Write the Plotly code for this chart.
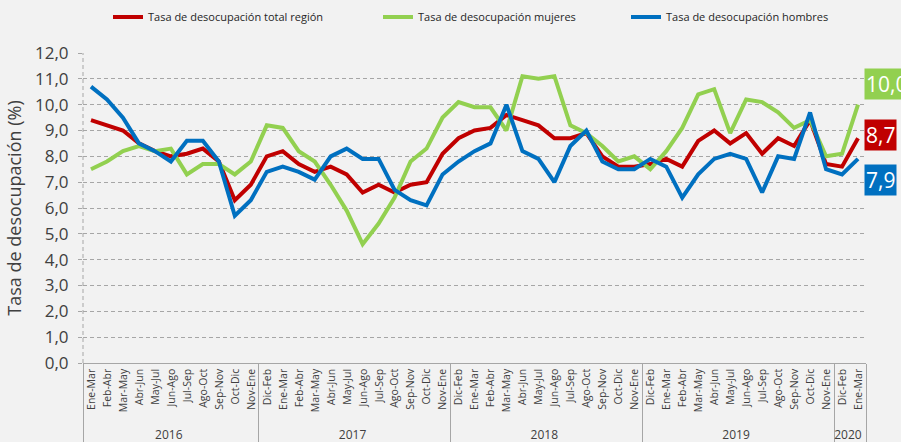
import plotly.graph_objects as go

years = ["2016"] * 11 + ["2017"] * 12 + ["2018"] * 12 + ["2019"] * 12 + ["2020"] * 2
periods = (
    ["Ene-Mar", "Feb-Abr", "Mar-May", "Abr-Jun", "May-Jul", "Jun-Ago", "Jul-Sep", "Ago-Oct", "Sep-Nov", "Oct-Dic", "Nov-Ene"]
    + ["Dic-Feb", "Ene-Mar", "Feb-Abr", "Mar-May", "Abr-Jun", "May-Jul", "Jun-Ago", "Jul-Sep", "Ago-Oct", "Sep-Nov", "Oct-Dic", "Nov-Ene"]
    + ["Dic-Feb", "Ene-Mar", "Feb-Abr", "Mar-May", "Abr-Jun", "May-Jul", "Jun-Ago", "Jul-Sep", "Ago-Oct", "Sep-Nov", "Oct-Dic", "Nov-Ene"]
    + ["Dic-Feb", "Ene-Mar", "Feb-Abr", "Mar-May", "Abr-Jun", "May-Jul", "Jun-Ago", "Jul-Sep", "Ago-Oct", "Sep-Nov", "Oct-Dic", "Nov-Ene"]
    + ["Dic-Feb", "Ene-Mar"]
)

total = [9.4, 9.2, 9.0, 8.5, 8.2, 8.0, 8.1, 8.3, 7.8, 6.3, 6.9,
         8.0, 8.2, 7.7, 7.4, 7.6, 7.3, 6.6, 6.9, 6.6, 6.9, 7.0, 8.1,
         8.7, 9.0, 9.1, 9.6, 9.4, 9.2, 8.7, 8.7, 8.9, 8.0, 7.6, 7.6,
         7.7, 7.9, 7.6, 8.6, 9.0, 8.5, 8.9, 8.1, 8.7, 8.4, 9.4, 7.7,
         7.6, 8.7]
mujeres = [7.5, 7.8, 8.2, 8.4, 8.2, 8.3, 7.3, 7.7, 7.7, 7.3, 7.8,
           9.2, 9.1, 8.2, 7.8, 6.9, 5.9, 4.6, 5.4, 6.4, 7.8, 8.3, 9.5,
           10.1, 9.9, 9.9, 9.0, 11.1, 11.0, 11.1, 9.2, 8.9, 8.4, 7.8, 8.0,
           7.5, 8.2, 9.1, 10.4, 10.6, 8.9, 10.2, 10.1, 9.7, 9.1, 9.4, 8.0,
           8.1, 10.0]
hombres = [10.7, 10.2, 9.5, 8.5, 8.2, 7.8, 8.6, 8.6, 7.8, 5.7, 6.3,
           7.4, 7.6, 7.4, 7.1, 8.0, 8.3, 7.9, 7.9, 6.7, 6.3, 6.1, 7.3,
           7.8, 8.2, 8.5, 10.0, 8.2, 7.9, 7.0, 8.4, 9.0, 7.8, 7.5, 7.5,
           7.9, 7.6, 6.4, 7.3, 7.9, 8.1, 7.9, 6.6, 8.0, 7.9, 9.7, 7.5,
           7.3, 7.9]

# keep each (year, period) inner label unique so the axis keeps data order;
# period labels are set a little smaller than the year row
year_list = sorted(set(years))
inner = ["<span style='font-size:10.5px'>\u00a0" + p + "\u200b" * year_list.index(y) + "</span>"
         for y, p in zip(years, periods)]

series = [
    ("Tasa de desocupación total región", total, "#c00000", "legend", 0.13),
    ("Tasa de desocupación mujeres", mujeres, "#92d050", "legend2", 0.8),
    ("Tasa de desocupación hombres", hombres, "#0070c0", "legend3", -0.8),
]

FONT = "Open Sans"
TXT = "#404040"
GRID = "#a6a6a6"
L, R, T, B = 83, 35, 53, 79
W, H = 901, 442
PW, PH = W - L - R, H - T - B
legend_px = [108, 378, 626]

fig = go.Figure()
for name, vals, color, leg, off in series:
    fig.add_trace(go.Scatter(
        x=[years, inner], y=vals, mode="lines", name=name,
        line=dict(color=color, width=4), legend=leg,
    ))

for (name, vals, color, leg, off) in series:
    last = vals[-1]
    fig.add_annotation(
        xref="paper", yref="y", x=(864 - L) / PW, y=last + off, xanchor="left", yanchor="middle",
        text=f"{last:.1f}".replace(".", ","), showarrow=False,
        font=dict(family=FONT, size=21, color="white"), bgcolor=color, borderpad=1,
    )

# dashed left axis line
fig.add_shape(type="line", xref="paper", yref="y", x0=0, x1=0, y0=0, y1=12,
              line=dict(color=GRID, width=1, dash="4px,3px"))

legs = {}
for i, key in enumerate(["legend", "legend2", "legend3"]):
    legs[key] = dict(
        xref="paper", yref="paper", x=(legend_px[i] - L) / PW, y=1 + (T - 17) / PH,
        xanchor="left", yanchor="middle", orientation="h", bgcolor="rgba(0,0,0,0)",
        font=dict(family=FONT, size=11, color="#262626"), itemwidth=30,
    )

fig.update_layout(
    width=W, height=H,
    margin=dict(l=L, r=R, t=T, b=B, autoexpand=False),
    paper_bgcolor="#f2f2f2", plot_bgcolor="#f2f2f2",
    separators=",.",
    showlegend=True,
    font=dict(family=FONT, color=TXT),
    **legs,
)

fig.update_xaxes(
    type="multicategory", range=[-0.5, 48.5],
    showline=True, linecolor=GRID, linewidth=1,
    showgrid=False, zeroline=False,
    showdividers=True, dividercolor=GRID, dividerwidth=1,
    tickangle=-90, tickfont=dict(family=FONT, size=12, color=TXT),
    automargin=False,
)
fig.update_yaxes(
    range=[0, 12], dtick=1, tick0=0, tickformat=".1f",
    showgrid=True, gridcolor=GRID, griddash="4px,3px", gridwidth=1,
    zeroline=False, showline=False,
    ticks="outside", ticklen=4, tickcolor=GRID,
    tickfont=dict(family=FONT, size=17, color=TXT), ticklabelstandoff=6,
    title=dict(text="Tasa de desocupación (%)", font=dict(family=FONT, size=18, color=TXT), standoff=8),
    automargin=False,
)

fig.write_html(
    "out.html",
    config={"displayModeBar": False},
    post_script="document.body.style.margin='0';document.body.style.background='#f2f2f2';",
)
